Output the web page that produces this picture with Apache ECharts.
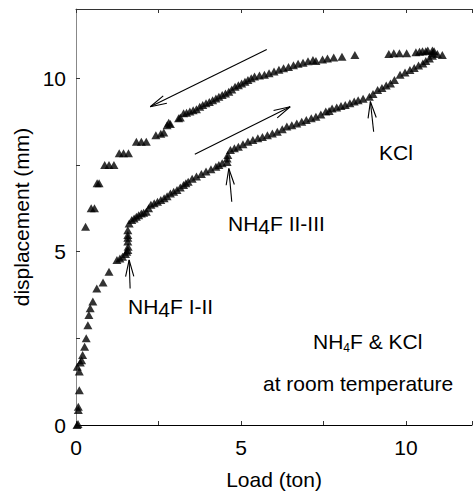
<!DOCTYPE html>
<html>
<head>
<meta charset="utf-8">
<script src="https://cdn.jsdelivr.net/npm/echarts@6/dist/echarts.min.js"></script>
<style>html,body{margin:0;padding:0;background:#fff}#c{width:475px;height:495px}</style>
</head>
<body>
<div id="c"></div>
<script>
// Loading branch (Load in ton, displacement in mm)
var loadingLoad = [0.03,0.06,0.07,0.07,0.10,0.10,0.04,0.13,0.17,0.20,0.26,0.31,0.36,0.39,0.43,0.51,0.63,0.82,1.00,1.24,1.33,1.41,1.50,1.54,1.57,1.58,1.57,1.57,1.57,1.57,1.61,1.69,1.76,1.83,1.90,1.98,2.05,2.13,2.20,2.27,2.37,2.47,2.57,2.67,2.76,2.86,2.96,3.06,3.16,3.26,3.33,3.40,3.52,3.65,3.80,3.94,4.09,4.24,4.33,4.43,4.58,4.58,4.60,4.68,4.80,4.92,5.06,5.21,5.36,5.51,5.65,5.80,5.95,6.10,6.25,6.39,6.54,6.69,6.84,6.98,7.13,7.27,7.42,7.57,7.67,7.76,7.90,8.03,8.16,8.30,8.43,8.55,8.70,8.89,9.00,9.14,9.27,9.40,9.53,9.65,9.82,9.97,10.12,10.25,10.38,10.51,10.60,10.71,10.80,10.80,10.85,10.66,10.50,10.41,10.95,11.10];
var loadingDisp = [0.00,0.03,0.43,0.53,1.00,1.54,1.68,1.80,1.87,2.02,2.26,2.50,2.88,3.17,3.37,3.56,3.94,4.11,4.42,4.76,4.80,4.85,4.93,5.00,5.05,5.14,5.29,5.40,5.48,5.62,5.81,5.91,5.96,6.01,6.05,6.10,6.12,6.15,6.25,6.35,6.40,6.44,6.49,6.54,6.60,6.68,6.73,6.78,6.85,6.92,6.97,7.02,7.10,7.17,7.24,7.31,7.38,7.45,7.50,7.55,7.59,7.69,7.79,7.93,7.98,8.03,8.10,8.17,8.22,8.27,8.31,8.36,8.41,8.46,8.53,8.61,8.65,8.70,8.75,8.80,8.85,8.89,8.96,9.04,9.06,9.13,9.16,9.20,9.23,9.28,9.33,9.37,9.41,9.47,9.55,9.66,9.72,9.79,9.85,9.95,10.10,10.17,10.24,10.30,10.37,10.43,10.50,10.57,10.65,10.72,10.78,10.80,10.78,10.77,10.70,10.67];
// Unloading branch
var unloadingLoad = [10.80,10.60,10.30,10.02,9.80,9.63,9.48,8.45,8.06,7.81,7.62,7.47,7.27,7.18,7.03,6.88,6.73,6.59,6.44,6.29,6.15,6.00,5.85,5.71,5.56,5.41,5.31,5.21,5.12,5.02,4.92,4.82,4.72,4.63,4.53,4.43,4.33,4.24,4.14,4.04,3.94,3.84,3.75,3.65,3.55,3.45,3.35,3.26,3.16,3.11,2.86,2.81,2.76,2.66,2.57,2.42,2.13,1.98,1.83,1.59,1.44,1.31,1.15,1.00,0.87,0.70,0.64,0.56,0.46,0.29];
var unloadingDisp = [10.80,10.78,10.75,10.72,10.72,10.72,10.70,10.67,10.62,10.60,10.57,10.54,10.50,10.53,10.49,10.45,10.42,10.38,10.33,10.29,10.25,10.20,10.15,10.10,10.08,10.05,10.00,9.95,9.90,9.85,9.80,9.76,9.68,9.61,9.56,9.52,9.47,9.42,9.37,9.32,9.28,9.23,9.18,9.11,9.08,9.04,9.01,8.99,8.87,8.85,8.68,8.72,8.65,8.44,8.40,8.36,8.17,8.17,8.17,7.84,7.84,7.84,7.50,7.50,7.50,6.97,6.97,6.25,6.25,5.72];
// Annotation arrows: [fromLoad, fromDisp, toLoad, toDisp]
var arrowFrom = [[5.78,10.83],[3.60,7.81],[1.64,3.94],[4.72,6.44],[9.02,8.46]];
var arrowTo   = [[2.25,9.18],[6.49,9.18],[1.61,4.76],[4.63,7.40],[8.92,9.33]];
var xTicks = [0,5,10];
var yTicks = [0,5,10];

function zip(a,b){var r=[];for(var i=0;i<a.length;i++)r.push([a[i],b[i]]);return r;}
var arrowData = arrowFrom.map(function(f,i){return [f[0],f[1],arrowTo[i][0],arrowTo[i][1]];});

var FONT = 'Liberation Sans, Arial, Helvetica, sans-serif';
var FS = 21;
var chart = echarts.init(document.getElementById('c'), null, {renderer:'svg'});

function labelFmt(ticks){return function(v){return ticks.indexOf(Math.round(v*100)/100)>=0 ? String(v) : '';};}

chart.setOption({
  animation:false,
  backgroundColor:'#fff',
  grid:{left:76, top:9, right:-9, bottom:70, containLabel:false},
  xAxis:[{
    type:'value', min:0, max:12, interval:2.5, position:'bottom',
    name:'Load (ton)', nameLocation:'middle', nameGap:44,
    nameTextStyle:{fontFamily:FONT, fontSize:FS, color:'#000'},
    axisLine:{show:true, onZero:false, lineStyle:{color:'#000', width:1}},
    axisTick:{show:true, inside:true, length:4, lineStyle:{color:'#333'}},
    axisLabel:{formatter:labelFmt(xTicks), fontFamily:FONT, fontSize:FS, color:'#000', margin:12},
    splitLine:{show:false}
  },{
    type:'value', min:0, max:12, interval:2.5, position:'top',
    axisLine:{show:true, onZero:false, lineStyle:{color:'#333', width:1}},
    axisTick:{show:true, inside:true, length:4, lineStyle:{color:'#333'}},
    axisLabel:{show:false}, splitLine:{show:false}
  }],
  yAxis:{
    type:'value', min:0, max:12, interval:2.5,
    name:'displacement (mm)', nameLocation:'middle', nameGap:42,
    nameTextStyle:{fontFamily:FONT, fontSize:FS, color:'#000'},
    axisLine:{show:true, onZero:false, lineStyle:{color:'#888', width:1}},
    axisTick:{show:true, inside:true, length:4, lineStyle:{color:'#333'}},
    axisLabel:{formatter:labelFmt(yTicks), fontFamily:FONT, fontSize:FS, color:'#000', margin:10},
    splitLine:{show:false}
  },
  series:[{
    type:'scatter', name:'loading', data:zip(loadingLoad, loadingDisp),
    symbol:'triangle', symbolSize:[9,8], itemStyle:{color:'#000'}
  },{
    type:'scatter', name:'unloading', data:zip(unloadingLoad, unloadingDisp),
    symbol:'triangle', symbolSize:[9,8], itemStyle:{color:'#000'}
  },{
    type:'custom', name:'arrows', data:arrowData, silent:true,
    renderItem:function(params, api){
      var p1 = api.coord([api.value(0), api.value(1)]);
      var p2 = api.coord([api.value(2), api.value(3)]);
      var ang = Math.atan2(p1[1]-p2[1], p1[0]-p2[0]);
      var L = 17, a = 14*Math.PI/180;
      var b1 = [p2[0]+L*Math.cos(ang+a), p2[1]+L*Math.sin(ang+a)];
      var b2 = [p2[0]+L*Math.cos(ang-a), p2[1]+L*Math.sin(ang-a)];
      var st = {stroke:'#000', lineWidth:1.1, fill:null};
      return {type:'group', children:[
        {type:'line', shape:{x1:p1[0],y1:p1[1],x2:p2[0],y2:p2[1]}, style:st},
        {type:'polyline', shape:{points:[b1,p2,b2]}, style:st}
      ]};
    }
  }],
  graphic:[
    {type:'text', left:128, top:296, style:{text:'NH{s|4}F I-II', font:FS+'px '+FONT, fill:'#000',
      rich:{s:{fontSize:FS, fontFamily:FONT, fill:'#000', padding:[6,0,0,0]}}}},
    {type:'text', left:228, top:213, style:{text:'NH{s|4}F II-III', font:FS+'px '+FONT, fill:'#000',
      rich:{s:{fontSize:FS, fontFamily:FONT, fill:'#000', padding:[6,0,0,0]}}}},
    {type:'text', left:379, top:142, style:{text:'KCl', font:FS+'px '+FONT, fill:'#000'}},
    {type:'text', left:313, top:331, style:{text:'NH{s|4}F & KCl', font:FS+'px '+FONT, fill:'#000',
      rich:{s:{fontSize:12, fontFamily:FONT, fill:'#000', padding:[12,0,0,0]}}}},
    {type:'text', left:263, top:373, style:{text:'at room temperature', font:FS+'px '+FONT, fill:'#000'}}
  ]
});
</script>
</body>
</html>
